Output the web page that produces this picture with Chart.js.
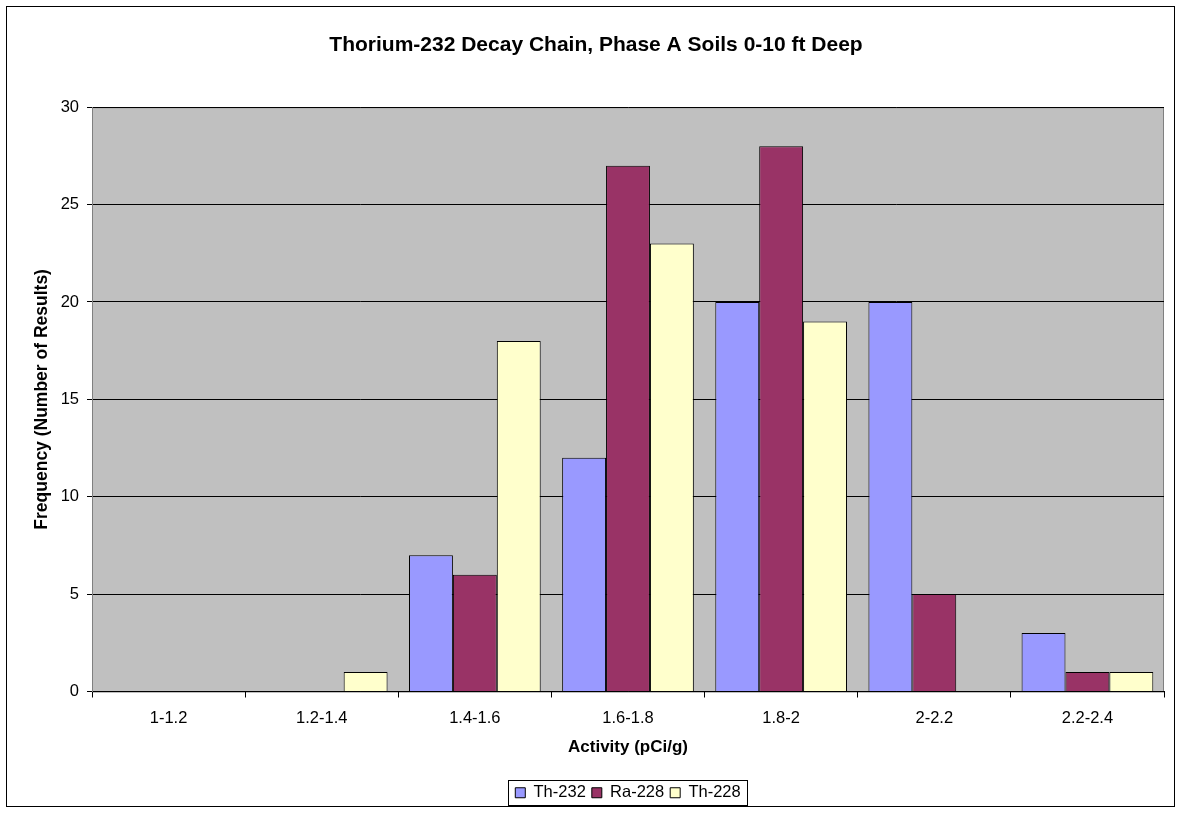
<!DOCTYPE html>
<html>
<head>
<meta charset="utf-8">
<script src="https://cdn.jsdelivr.net/npm/chart.js@4"></script>
<style>
  html, body { margin: 0; padding: 0; background: #fff; }
  #wrap { position: relative; width: 1181px; height: 816px; }
</style>
</head>
<body>
<div id="wrap"><canvas id="thChart" width="1181" height="816"></canvas></div>
<script>
// Chart values
const categories = ['1-1.2', '1.2-1.4', '1.4-1.6', '1.6-1.8', '1.8-2', '2-2.2', '2.2-2.4'];
const th232 = [0, 0, 7, 12, 20, 20, 3];
const ra228 = [0, 0, 6, 27, 28, 5, 1];
const th228 = [0, 1, 18, 23, 19, 0, 1];
const yTicks = [0, 5, 10, 15, 20, 25, 30];

const FONT = 'Liberation Sans, Arial, sans-serif';
Chart.defaults.font.family = FONT;
Chart.defaults.color = '#000';

// Grey plot area, outer frame and legend frame (Excel look)
const excelFrame = {
    id: 'excelFrame',
    afterLayout(chart) {
        // center the legend under the plot area instead of the canvas
        const a = chart.chartArea;
        const lg = chart.legend;
        const shift = Math.round((a.left + a.right) / 2 - (lg.left + lg.right) / 2);
        lg.left += shift;
        lg.right += shift;
    },
    beforeDraw(chart) {
        const {ctx, chartArea: a} = chart;
        ctx.save();
        ctx.fillStyle = '#c0c0c0';
        ctx.fillRect(a.left, a.top, a.right - a.left, a.bottom - a.top);
        ctx.strokeStyle = '#808080';
        ctx.lineWidth = 1;
        ctx.strokeRect(a.left + 0.5, a.top + 0.5, a.right - a.left - 1, a.bottom - a.top);
        ctx.restore();
    },
    afterDraw(chart) {
        const ctx = chart.ctx;
        ctx.save();
        ctx.strokeStyle = '#000';
        ctx.lineWidth = 1;
        ctx.strokeRect(6.5, 6.5, 1168, 800);
        const boxes = chart.legend.legendHitBoxes;
        if (boxes && boxes.length) {
            const first = boxes[0], last = boxes[boxes.length - 1];
            const x0 = Math.round(first.left) - 6.5;
            const x1 = Math.round(last.left + last.width) + 6.5;
            const y0 = Math.round(first.top) - 4.5;
            const y1 = Math.round(first.top + first.height) + 4.5;
            ctx.strokeRect(x0, y0, x1 - x0, y1 - y0);
        }
        ctx.restore();
    }
};

const ctx = document.getElementById('thChart').getContext('2d');
const thChart = new Chart(ctx, {
    type: 'bar',
    data: {
        labels: categories,
        datasets: [
            { label: 'Th-232', data: th232, backgroundColor: '#9999ff' },
            { label: 'Ra-228', data: ra228, backgroundColor: '#993366' },
            { label: 'Th-228', data: th228, backgroundColor: '#ffffcc' }
        ]
    },
    options: {
        responsive: false,
        animation: false,
        layout: { padding: { left: 28, right: 17, top: 0, bottom: 5 } },
        datasets: {
            bar: {
                borderColor: '#000',
                borderWidth: 1,
                borderSkipped: 'bottom',
                categoryPercentage: 0.86,
                barPercentage: 1
            }
        },
        plugins: {
            title: {
                display: true,
                text: 'Thorium-232 Decay Chain, Phase A Soils 0-10 ft Deep',
                font: { size: 21, weight: 'bold' },
                color: '#000',
                padding: { top: 33, bottom: 49 }
            },
            legend: {
                position: 'bottom',
                labels: {
                    boxWidth: 10,
                    boxHeight: 10,
                    padding: 6,
                    font: { size: 16.5 },
                    color: '#000'
                }
            },
            tooltip: { enabled: false }
        },
        scales: {
            x: {
                grid: {
                    offset: true,
                    drawOnChartArea: false,
                    drawTicks: true,
                    tickLength: 6,
                    color: '#000'
                },
                border: { color: '#000' },
                ticks: { padding: 11, font: { size: 16.5 }, color: '#000', maxRotation: 0 },
                title: {
                    display: true,
                    text: 'Activity (pCi/g)',
                    font: { size: 17, weight: 'bold' },
                    color: '#000',
                    padding: { top: 4, bottom: 21 }
                },
                afterFit(scale) { scale.height = 87; }
            },
            y: {
                min: 0,
                max: 30,
                afterBuildTicks(scale) {
                    scale.ticks = yTicks.map(v => ({ value: v }));
                },
                grid: {
                    color: '#000',
                    tickLength: 5,
                    drawTicks: true
                },
                border: { color: '#808080' },
                ticks: { padding: 8, font: { size: 16.5 }, color: '#000' },
                title: {
                    display: true,
                    text: 'Frequency (Number of Results)',
                    font: { size: 17.5, weight: 'bold' },
                    color: '#000',
                    padding: { top: 4, bottom: 4 }
                },
                afterFit(scale) { scale.width = 64; }
            }
        }
    },
    plugins: [excelFrame]
});
</script>
</body>
</html>
